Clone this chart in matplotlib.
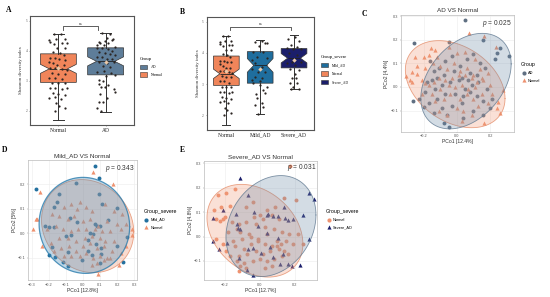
import numpy as np
import matplotlib
matplotlib.use("Agg")
import matplotlib.pyplot as plt
from matplotlib.lines import Line2D
from matplotlib.patches import Patch

W, H = 550, 297
SERIF = "Liberation Serif"
SANS = "Liberation Sans"

plt.rcParams["mathtext.fontset"] = "custom"
plt.rcParams["mathtext.it"] = "Liberation Sans:italic"
plt.rcParams["mathtext.rm"] = "Liberation Sans"

ORANGE = "#F0855A"
SLATE = "#5E7D99"
BLUE = "#1F6E9E"
NAVY = "#1B1E6B"
PT_ORANGE = "#EE9270"
PT_SLATE = "#5F6F82"
PT_BLUE = "#23709F"

# --- Shannon diversity index, jitter offset and value ---
normal_off = [-.10, .06, -.04, -.19, -.18, .14, .18, -.09, .07, -.02, .14, -.11, .03, .11, -.18, -.07, .02,
              .14, -.20, -.11, -.02, .11, -.18, -.07, .07, .18, -.14, 0, .14, -.19, -.07, .07, -.14, 0, .14,
              -.18, -.07, .07, .18, -.12, 0, .14, -.19, -.07, .05, -.04, .02, -.07, .15]
normal_val = [4.55, 4.55, 4.38, 4.36, 4.28, 4.38, 4.25, 4.22, 4.25, 4.08, 4.08, 3.97, 3.94, 3.86, 3.75, 3.75,
              3.72, 3.71, 3.64, 3.58, 3.53, 3.53, 3.42, 3.42, 3.39, 3.37, 3.25, 3.23, 3.23, 3.09, 3.09, 3.05,
              2.92, 2.92, 2.92, 2.75, 2.75, 2.72, 2.75, 2.58, 2.56, 2.53, 2.42, 2.47, 2.39, 2.25, 2.17, 2.0, 2.09]
ad_off = [-.08, .10, .02, -.15, -.01, .13, .16, -.19, -.12, -.03, .06, .20, -.18, -.08, .04, .14, -.14, -.02,
          .09, .19, -.19, -.08, .03, .13, -.13, .02, .17, -.06, .09, -.18, -.03, .12, .19, .01, -.13, -.05,
          -.14, .05, -.09, -.01, .18, .19, -.12, .02, -.14, -.05, -.19, -.1]
ad_val = [4.58, 4.56, 4.44, 4.28, 4.33, 4.35, 4.4, 4.2, 4.25, 4.2, 4.25, 4.12, 4.1, 4.08, 4.05, 4.0, 3.95, 3.93,
          3.9, 3.85, 3.8, 3.78, 3.72, 3.72, 3.62, 3.6, 3.62, 3.5, 3.45, 3.3, 3.32, 3.25, 3.2, 3.15, 3.02, 2.98,
          2.88, 2.85, 2.8, 2.78, 2.72, 2.62, 2.55, 2.42, 2.3, 2.3, 2.08, 2.0]
mild_off = [-.16, .04, .14, .19, -.03, -.2, .09, -.09, -.25, .19, -.16, .04, -.25, -.06, .14, -.16, .04, -.25,
            -.01, -.2, -.01, .19, .09, -.13, .14, -.09, .04, -.16, .09, -.06]
mild_val = [4.36, 4.39, 4.33, 4.31, 4.22, 4.04, 4.04, 3.88, 3.77, 3.83, 3.67, 3.56, 3.5, 3.4, 3.4, 3.22, 3.19,
            3.14, 3.11, 3.03, 2.98, 2.9, 2.82, 2.68, 2.73, 2.55, 2.39, 2.34, 2.27, 2.05]
severe_off = [-.17, .03, .16, -.1, .08, -.22, -.02, .22, -.14, .08, .2, -.07, -.22, .02, -.12, .14, .03, -.07,
              .06, -.12, .08, -.04, -.1, .16]
severe_val = [4.44, 4.5, 4.39, 4.26, 4.2, 4.15, 4.13, 4.12, 3.99, 3.93, 3.72, 3.72, 3.67, 3.6, 3.5, 3.45, 3.33,
              3.19, 3.19, 3.03, 3.03, 2.9, 2.84, 2.84]

# box stats: low whisker, q1, notch low, median, notch high, q3, high whisker, mean
box_a_normal = [1.7, 2.95, 3.25, 3.4, 3.55, 3.9, 4.55, 3.42]
box_a_ad = [1.95, 3.2, 3.5, 3.65, 3.8, 4.1, 4.6, 3.62]
box_b_normal = [1.7, 2.96, 3.18, 3.33, 3.48, 3.9, 4.54, 3.42]
box_b_mild = [2.04, 3.03, 3.38, 3.6, 3.82, 4.04, 4.4, 3.49]
box_b_severe = [2.84, 3.52, 3.68, 3.83, 3.98, 4.14, 4.58, 3.78]

# --- PCoA coordinates ---
c_ad_x = [.05, -.26, -.045, .26, .315, .24, .23, -.265, -.23, -.2, -.075, -.045, .16, -.16, -.14, -.11, -.07, -.03,
          .02, .06, .1, .14, .08, -.12, -.18, -.15, -.08, -.02, .03, .07, .12, .17, -.19, -.13, -.09, -.04, .01,
          .05, .09, .13, .18, .21, -.17, -.12, -.07, -.01, .04, .08, .12, .16, .2, -.14, -.09, -.03, .03, .1, .16,
          .04, -.06]
c_ad_y = [.285, .185, .19, .167, .13, .145, .118, -.06, -.052, -.087, -.155, -.17, .2, .11, .07, .08, .11, .13,
          .09, .12, .14, .1, .06, .04, .02, .03, .05, .07, .04, .03, .05, .08, -.02, -.01, .01, .02, .03, -.01,
          .01, .02, -.01, -.05, -.07, -.05, -.03, -.03, -.04, -.02, -.04, -.06, -.09, -.11, -.09, -.08, -.07,
          -.1, -.12, -.13, -.12]
c_nor_x = [.072, .164, .238, -.308, -.28, -.268, -.242, -.156, -.13, -.168, -.2, -.25, -.122, -.142, -.21, -.19,
           .164, .028, .248, .278, -.05, 0, .05, .11, .14, .19, -.1, -.06, -.02, .02, .06, .1, .15, -.17, -.14,
           -.11, -.07, -.03, .01, .05, .09, .12, .16, .2, -.21, -.15, -.1, -.05, -.01, .03, .07, .11, .15, .21,
           -.13, -.08, -.04, .02, .06, .1, .13, .19, -.11, -.06, 0, .04, .09, -.27, -.24, .24, .26, -.19]
c_nor_y = [.228, .217, .172, .047, .03, .065, .055, .165, .157, .136, .129, .126, .129, .1, .03, .016, -.152,
           -.143, -.062, -.013, .17, .145, .15, .12, .075, .06, .09, .075, .1, .07, .08, .05, .04, .01, .02, .04,
           .03, .04, .05, .05, .04, .02, .03, .01, -.03, -.03, -.01, .01, 0, .01, -.01, 0, -.03, -.03, -.06, -.05,
           -.03, -.05, -.03, -.05, -.08, -.07, -.1, -.12, -.09, -.1, -.12, .02, .09, -.09, -.11, .08]

d_ad_x = [.07, .096, -.276, -.043, -.14, -.15, -.17, .094, .11, .2, -.076, -.037, -.223, -.2, -.17, .145, .07, .084,
          .1, .04, .06, -.1, -.073, .26, .03, .076, .106, .2, -.18, -.086, .03, -.2, -.165, .05, .106, -.008,
          -.086, -.12, .1, .233]
d_ad_y = [.275, .226, .182, .207, .16, .127, .11, .163, .122, .102, .065, .045, .03, .027, .027, .053, .04, .03,
          .03, 0, -.003, -.01, -.007, -.016, -.027, -.044, -.06, -.052, -.054, -.075, -.072, -.088, -.098, -.088,
          -.082, -.109, -.133, -.116, -.122, -.117]
d_nor_x = [.06, -.25, .175, -.273, -.29, .286, .286, .09, -.27, -.02, -.035, -.11, -.07, .02, .05, .13, .18, .23,
           -.18, -.14, -.09, -.05, 0, .04, .09, .14, .2, .25, -.21, -.16, -.12, -.07, -.03, .02, .07, .11, .16,
           .22, -.24, -.19, -.14, -.09, -.04, .01, .05, .1, .13, .18, .25, -.17, -.13, -.08, -.04, 0, .04, .08,
           .12, .17, .22, -.11, -.07, -.02, .02, .06, .1, .14, .05, .08, .12, .16, .21]
d_nor_y = [.25, .17, .203, .061, .02, .02, -.007, -.166, .06, .13, .1, .11, .12, .11, .09, .12, .09, .08, .08, .07,
           .06, .07, .05, .06, .03, .05, .04, .04, .02, .03, .02, .01, .02, .02, .02, .01, .01, .02, -.05, -.04,
           -.02, -.02, -.03, -.02, -.01, -.02, -.03, -.03, -.05, -.07, -.06, -.05, -.07, -.05, -.04, -.06, -.05,
           -.07, -.08, -.09, -.09, -.09, -.08, -.1, -.09, -.1, -.13, -.12, -.11, -.1, -.13]

e_nor_x = [.175, -.24, -.19, -.14, -.26, -.22, -.17, -.21, -.25, -.23, -.2, -.16, -.12, -.08, -.04, 0, .04, .09, .14,
           .21, .11, .07, .02, -.03, -.08, -.13, -.18, -.25, -.21, -.11, -.06, -.02, .03, .08, .13, .17, .22, .25,
           -.15, -.1, -.05, -.01, .04, .1, .12, .15, .19, -.19, -.14, -.09, -.05, -.01, .03, .07, .11, .14, -.17,
           -.12, -.07, -.02, .02, .06, .1, .13, .16, -.13, -.09, -.04, 0, .04, .08, -.11, -.12, -.08, .03, .07]
e_nor_y = [.288, .17, .18, .195, .11, .12, .125, .07, .07, .065, .08, .06, .05, .12, .14, .09, .11, .12, .16, .15,
           .07, .09, .07, .08, .06, .03, .02, -.01, -.03, .02, .01, .05, .04, .03, .02, .01, .01, -.03, -.02, -.01,
           0, -.01, .01, -.02, -.03, -.02, -.03, -.06, -.04, -.05, -.03, -.02, -.03, -.04, -.05, -.06, -.08, -.08,
           -.07, -.06, -.07, -.06, -.04, -.08, -.07, -.1, -.11, -.1, -.09, -.1, -.09, -.12, -.14, -.13, -.13, -.12]
e_sev_x = [-.113, -.065, -.21, -.267, -.138, -.033, .05, .04, .079, .104, .137, .146, .165, .194, .248, .281, .31,
           .281, -.127, -.123, -.11, .04, -.008, .104, -.267, -.235, -.187, -.065, -.037, .06, .006, -.117, .079,
           .133, .117, -.071, -.037, .165, .188, .229]
e_sev_y = [.239, .171, .109, .075, .093, .102, .093, .089, .085, .085, .123, .075, .068, .071, .087, .178, .153,
           -.011, .052, .034, .03, .014, .044, -.004, -.018, -.051, -.027, -.051, -.048, -.044, -.068, -.089, -.082,
           -.071, -.112, -.137, -.157, -.112, -.12, -.115]

fig = plt.figure(figsize=(W / 100, H / 100), dpi=100)


def px_axes(left, top, right, bottom):
    return fig.add_axes([left / W, 1 - bottom / H, (right - left) / W, (bottom - top) / H])


def add_legend(title, handles, labels, x, y, font, tsize, size, spacing, pad=1.0, hlen=1.4, hheight=0.7):
    leg = fig.legend(handles, labels, title=title, loc="upper left", bbox_to_anchor=(x / W, 1 - y / H),
                     frameon=False, borderpad=0, borderaxespad=0, labelspacing=spacing, handletextpad=pad,
                     handlelength=hlen, handleheight=hheight, prop={"family": font, "size": size},
                     title_fontproperties={"family": font, "size": tsize})
    leg._legend_box.align = "left"
    return leg


def box_panel(ax, boxes, colors, jitter, labels, ylim, xlim, bracket):
    stats = []
    for b in boxes:
        stats.append(dict(whislo=b[0], q1=b[1], cilo=b[2], med=b[3], cihi=b[4], q3=b[5], whishi=b[6], fliers=[]))
    pos = np.arange(1, len(boxes) + 1)
    art = ax.bxp(stats, positions=pos, widths=0.76, shownotches=True, patch_artist=True, showfliers=False,
                 boxprops=dict(linewidth=0.5, edgecolor="#333333"), medianprops=dict(linewidth=0.6, color="#222222"),
                 whiskerprops=dict(linewidth=0.7, color="#333333"), capprops=dict(linewidth=0.7, color="#333333"),
                 capwidths=0.24)
    for patch, col in zip(art["boxes"], colors):
        patch.set_facecolor(col)
    for p, (off, val) in zip(pos, jitter):
        ax.scatter(p + np.array(off), val, s=2.6, color="#2b2522", linewidths=0, zorder=4)
    ax.scatter(pos, [b[7] for b in boxes], s=5, marker="D", color="#EBC9A8", linewidths=0, zorder=5)
    x0, x1, y0, y1 = bracket
    ax.plot([x0, x0, x1, x1], [y0, y1, y1, y0], color="#444444", lw=0.6)
    ax.text((x0 + x1) / 2, y1 + 0.02, "ns", ha="center", va="bottom", fontsize=3, family=SERIF, color="#333333")
    ax.set_xlim(*xlim)
    ax.set_ylim(*ylim)
    ax.set_xticks(pos)
    ax.set_xticklabels(labels, fontsize=4, family=SERIF, color="#222222")
    ax.set_yticks([2, 3, 4, 5])
    ax.set_yticklabels(["2", "3", "4", "5"], fontsize=2.5, family=SERIF, color="#555555")
    ax.tick_params(length=1, width=0.4, pad=1, color="#555555")
    ax.set_ylabel("Shannon diversity index", fontsize=3.5, family=SERIF, color="#333333", labelpad=1.5)
    for s in ax.spines.values():
        s.set_linewidth(0.8)
        s.set_color("#555555")


def stat_ellipse(ax, cx, cy, a, b, rho, fill, edge, alpha=0.3, lw=0.6):
    # axis-aligned half ranges a, b with correlation rho
    t = np.linspace(0, 2 * np.pi, 200)
    x = cx + a * np.cos(t)
    y = cy + b * np.cos(t - np.arccos(rho))
    ax.fill(x, y, facecolor=fill, alpha=alpha, edgecolor="none", zorder=3)
    ax.plot(x, y, color=edge, lw=lw, alpha=0.8, zorder=3)


def pcoa_panel(ax, title, xlabel, ylabel, xlim, ylim, xticks, yticks, ptext, ptx, pty):
    ax.set_title(title, fontsize=4.6, family=SANS, color="#333333", pad=2)
    ax.set_xlabel(xlabel, fontsize=3.6, family=SANS, color="#333333", labelpad=0.8)
    ax.set_ylabel(ylabel, fontsize=3.6, family=SANS, color="#333333", labelpad=0.8)
    ax.set_xlim(*xlim)
    ax.set_ylim(*ylim)
    ax.set_xticks(xticks)
    ax.set_yticks(yticks)
    ax.set_xticklabels([f"{v:.1f}".replace("-", "\u2212") for v in xticks], fontsize=2.8, family=SANS, color="#555555")
    ax.set_yticklabels([f"{v:.1f}".replace("-", "\u2212") for v in yticks], fontsize=2.8, family=SANS, color="#555555")
    ax.tick_params(length=1, width=0.3, pad=0.8, color="#888888")
    ax.grid(True, color="#EDEDED", lw=0.4)
    ax.set_axisbelow(True)
    for s in ax.spines.values():
        s.set_linewidth(0.5)
        s.set_color("#BBBBBB")
    ax.text(ptx, pty, ptext, transform=ax.transAxes, ha="right", va="center", fontsize=4.8, family=SANS,
            color="#333333", zorder=6)


def box_key(color):
    return Patch(fc=color, ec="#333333", lw=0.4)


def pt_key(marker, color):
    return Line2D([], [], ls="", marker=marker, ms=3, color=color, mew=0)


# A
ax_a = px_axes(30, 16, 134, 125)
box_panel(ax_a, [box_a_normal, box_a_ad], [ORANGE, SLATE], [(normal_off, normal_val), (ad_off, ad_val)],
          ["Normal", "AD"], (1.53, 5.16), (0.4, 2.6), (1.1, 1.83, 4.71, 4.82))
add_legend("Group", [box_key(SLATE), box_key(ORANGE)], ["AD", "Normal"], 140, 57.5, SERIF, 3.4, 2.8, 0.8,
           pad=0.9, hlen=1.9, hheight=1.5)

# B
ax_b = px_axes(206.7, 16.7, 314, 130)
box_panel(ax_b, [box_b_normal, box_b_mild, box_b_severe], [ORANGE, BLUE, NAVY],
          [(normal_off, normal_val), (mild_off, mild_val), (severe_off, severe_val)],
          ["Normal", "Mild_AD", "Severe_AD"], (1.53, 5.16), (0.42, 3.59), (1.12, 2.9, 4.73, 4.84))
add_legend("Group_severe", [box_key(BLUE), box_key(ORANGE), box_key(NAVY)], ["Mild_AD", "Normal", "Severe_AD"],
           321, 55, SERIF, 3.4, 2.6, 1.0, pad=0.9, hlen=2.0, hheight=1.7)

# C
ax_c = px_axes(400.7, 15, 514, 131.7)
ax_c.scatter(c_ad_x, c_ad_y, s=8, color=PT_SLATE, linewidths=0, zorder=2)
ax_c.scatter(c_nor_x, c_nor_y, s=9, marker="^", color=PT_ORANGE, linewidths=0, zorder=2)
stat_ellipse(ax_c, -.01, .012, .30, .185, -.33, "#F09A78", "#E58C68")
stat_ellipse(ax_c, .055, .025, .272, .203, .36, "#6F8CA8", "#5F7890")
pcoa_panel(ax_c, "AD VS Normal", "PCo1 [12.4%]", "PCo2 [4.4%]", (-.338, .344), (-.19, .306),
           [-.2, 0, .2], [-.1, 0, .1, .2, .3], "$p$ = 0.025", 0.98, 0.925)
add_legend("Group", [pt_key("o", PT_SLATE), pt_key("^", PT_ORANGE)], ["AD", "Normal"], 521, 62, SANS, 3.8, 2.8, 1.0,
           pad=0.4)

# D
ax_d = px_axes(28, 160, 137, 280)
ax_d.scatter(d_ad_x, d_ad_y, s=8, color=PT_BLUE, linewidths=0, zorder=2)
ax_d.scatter(d_nor_x, d_nor_y, s=9, marker="^", color=PT_ORANGE, linewidths=0, zorder=2)
stat_ellipse(ax_d, .027, .03, .27, .19, -.13, "#F09A78", "#E58C68", alpha=0.35)
stat_ellipse(ax_d, .008, .033, .265, .196, -.03, "#4A8FBB", "#2A7CAD", alpha=0.35, lw=0.9)
pcoa_panel(ax_d, "Mild_AD VS Normal", "PCo1 [12.8%]", "PCo2 [5%]", (-.322, .316), (-.19, .30),
           [-.3, -.2, -.1, 0, .1, .2, .3], [-.1, 0, .1, .2], "$p$ = 0.343", 0.975, 0.93)
add_legend("Group_severe", [pt_key("o", PT_BLUE), pt_key("^", PT_ORANGE)], ["Mild_AD", "Normal"], 143.5, 209, SANS,
           3.8, 2.8, 1.0, pad=0.4)

# E
ax_e = px_axes(204, 160.7, 317, 280)
ax_e.scatter(e_nor_x, e_nor_y, s=8, color=PT_ORANGE, linewidths=0, zorder=2)
ax_e.scatter(e_sev_x, e_sev_y, s=9, marker="^", color=NAVY, linewidths=0, zorder=2)
stat_ellipse(ax_e, -.027, .024, .275, .19, -.28, "#F09A78", "#E58C68")
stat_ellipse(ax_e, .065, .043, .258, .207, .22, "#6F8CA8", "#5F7890")
pcoa_panel(ax_e, "Severe_AD VS Normal", "PCo1 [12.7%]", "PCo2 [4.8%]", (-.319, .329), (-.178, .311),
           [-.2, 0, .2], [-.1, 0, .1, .2, .3], "$p$ = 0.031", 0.995, 0.94)
add_legend("Group_severe", [pt_key("o", PT_ORANGE), pt_key("^", NAVY)], ["Normal", "Severe_AD"], 326, 209, SANS,
           3.8, 2.8, 1.0, pad=0.4)

# panel letters
for letter, x, y in [("A", 8.5, 10.5), ("B", 182, 12), ("C", 364, 14), ("D", 5, 149.5), ("E", 182, 149.5)]:
    fig.text(x / W, 1 - y / H, letter, fontsize=5.5, fontweight="bold", family=SERIF, ha="center", va="center")

fig.savefig("out.png", dpi=100)
